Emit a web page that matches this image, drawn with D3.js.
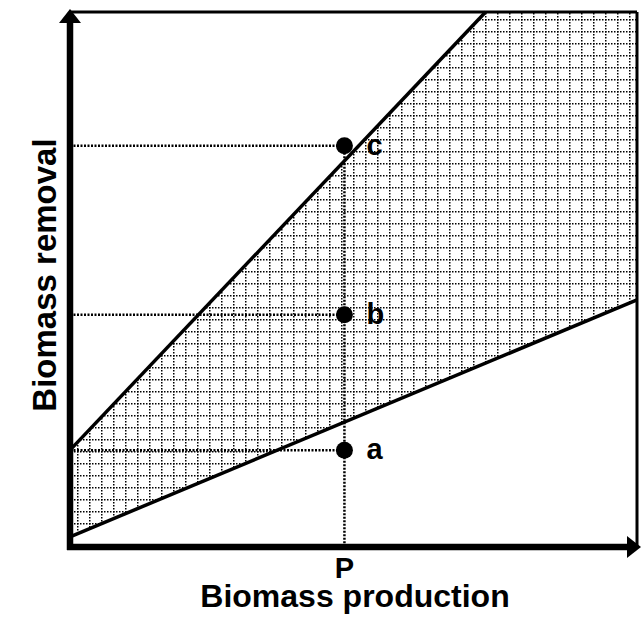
<!DOCTYPE html>
<html>
<head>
<meta charset="utf-8">
<script src="https://cdn.jsdelivr.net/npm/d3@7"></script>
<style>
  html, body { margin: 0; padding: 0; background: #fff; }
  svg { display: block; font-family: "Liberation Sans", Arial, sans-serif; font-weight: bold; }
</style>
</head>
<body>
<div id="chart"></div>
<script>
// conceptual chart, axes run 0..1 without ticks
var xLabel = 'Biomass production';
var yLabel = 'Biomass removal';
var pLabel = 'P';
var pValue = 0.484;

// the two boundary lines, as [x, y] ends
var upperLine = [[0, 0.181], [0.733, 1]];
var lowerLine = [[0, 0.019], [1, 0.462]];

var pointNames = ['a', 'b', 'c'];
var pointValues = [0.181, 0.434, 0.75];

var width = 641, height = 619;
var plotLeft = 70, plotRight = 637, plotTop = 12, plotBottom = 547;

var x = d3.scaleLinear().domain([0, 1]).range([plotLeft, plotRight]);
var y = d3.scaleLinear().domain([0, 1]).range([plotBottom, plotTop]);

var svg = d3.select('#chart').append('svg')
    .attr('width', width)
    .attr('height', height);

// dotted grid fill pattern
var defs = svg.append('defs');
var pat = defs.append('pattern')
    .attr('id', 'grid')
    .attr('patternUnits', 'userSpaceOnUse')
    .attr('x', 77).attr('y', 7)
    .attr('width', 12).attr('height', 12);
pat.append('line')
    .attr('x1', 0).attr('y1', 0.75).attr('x2', 12).attr('y2', 0.75)
    .attr('stroke', '#000').attr('stroke-width', 1.5)
    .attr('stroke-dasharray', '1.5,1.5');
pat.append('line')
    .attr('x1', 0.75).attr('y1', 0).attr('x2', 0.75).attr('y2', 12)
    .attr('stroke', '#000').attr('stroke-width', 1.5)
    .attr('stroke-dasharray', '1.5,1.5');

// shaded region between the two lines
var region = [
    upperLine[0],
    lowerLine[0],
    lowerLine[1],
    [1, 1],
    upperLine[1]
];
var line = d3.line().x(d => x(d[0])).y(d => y(d[1]));
svg.append('path')
    .attr('d', line(region) + 'Z')
    .attr('fill', 'url(#grid)');

// top and right frame
svg.append('line')
    .attr('x1', x(0)).attr('x2', x(1)).attr('y1', y(1)).attr('y2', y(1))
    .attr('stroke', '#000').attr('stroke-width', 3);
svg.append('line')
    .attr('x1', x(1)).attr('x2', x(1)).attr('y1', y(1)).attr('y2', y(0))
    .attr('stroke', '#000').attr('stroke-width', 3);

// boundary lines
[upperLine, lowerLine].forEach(function(l) {
    svg.append('path')
        .attr('d', line(l))
        .attr('stroke', '#000')
        .attr('stroke-width', 3.5)
        .attr('fill', 'none');
});

// dotted guides
var dotted = '2,1.5';
svg.append('line')
    .attr('x1', x(pValue)).attr('x2', x(pValue))
    .attr('y1', y(d3.max(pointValues))).attr('y2', y(0))
    .attr('stroke', '#000').attr('stroke-width', 2.5)
    .attr('stroke-dasharray', dotted);
pointValues.forEach(function(v) {
    svg.append('line')
        .attr('x1', x(0)).attr('x2', x(pValue))
        .attr('y1', y(v)).attr('y2', y(v))
        .attr('stroke', '#000').attr('stroke-width', 2.5)
        .attr('stroke-dasharray', dotted);
});

// points and labels
svg.selectAll('.pt')
    .data(pointValues)
    .enter().append('circle')
    .attr('class', 'pt')
    .attr('cx', x(pValue))
    .attr('cy', d => y(d))
    .attr('r', 8.5)
    .attr('fill', '#000');

svg.selectAll('.ptlabel')
    .data(pointValues)
    .enter().append('text')
    .attr('class', 'ptlabel')
    .attr('x', x(pValue) + 22)
    .attr('y', d => y(d) + 9)
    .attr('font-size', 29)
    .text((d, i) => pointNames[i]);

// axes with arrows
svg.append('line')
    .attr('x1', x(0)).attr('x2', x(0)).attr('y1', y(0) + 3).attr('y2', 20)
    .attr('stroke', '#000').attr('stroke-width', 6.5);
svg.append('path')
    .attr('d', 'M' + (x(0) - 11) + ',23L' + x(0) + ',9L' + (x(0) + 11) + ',23Z')
    .attr('fill', '#000');

svg.append('line')
    .attr('x1', x(0) - 3).attr('x2', 630).attr('y1', y(0)).attr('y2', y(0))
    .attr('stroke', '#000').attr('stroke-width', 6.5);
svg.append('path')
    .attr('d', 'M627,' + (y(0) - 11) + 'L641,' + y(0) + 'L627,' + (y(0) + 11) + 'Z')
    .attr('fill', '#000');

// text
svg.append('text')
    .attr('x', x(pValue))
    .attr('y', 578)
    .attr('text-anchor', 'middle')
    .attr('font-size', 29)
    .text(pLabel);

svg.append('text')
    .attr('x', 355)
    .attr('y', 607)
    .attr('text-anchor', 'middle')
    .attr('font-size', 32)
    .text(xLabel);

svg.append('text')
    .attr('transform', 'translate(56,275) rotate(-90)')
    .attr('text-anchor', 'middle')
    .attr('font-size', 33)
    .text(yLabel);
</script>
</body>
</html>
